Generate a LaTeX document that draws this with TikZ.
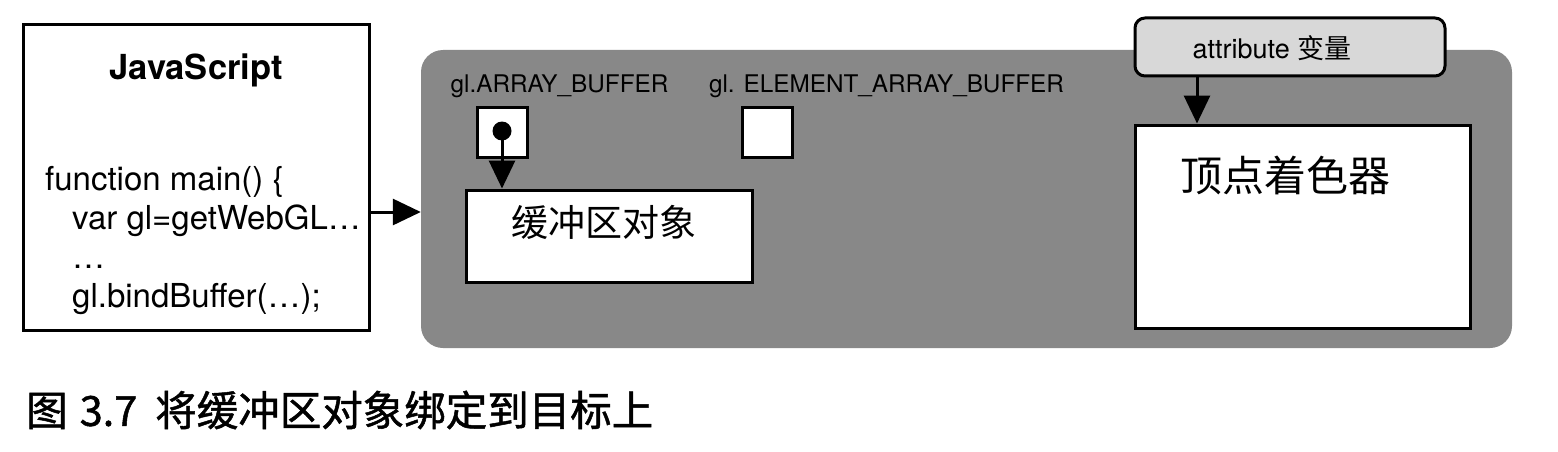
\documentclass[tikz,border=0pt]{standalone}
\usepackage{fontspec}
\setmainfont{TeX Gyre Heros}
\newfontfamily\cjk{Noto Sans CJK SC}
\newfontfamily\cjkb[FakeBold=1.2]{Noto Sans CJK SC}
\usetikzlibrary{arrows.meta}
\definecolor{panelgray}{RGB}{136,136,136}
\definecolor{attrgray}{RGB}{216,216,216}
\tikzset{
  box/.style={draw=black, line width=3pt, fill=white, inner sep=0pt, rectangle},
  arr/.style={line width=3pt, -{Triangle[width=26pt,length=28pt]}},
  fs/.style={font=\fontsize{#1}{#1}\selectfont},
}
\begin{document}
\begin{tikzpicture}[x=1pt,y=-1pt]
\useasboundingbox (0,0) rectangle (1558,452);
% JavaScript box
\node[box, minimum width=346pt, minimum height=305pt] (js) at (196,177.5) {};
\node[font=\fontsize{34.5}{34.5}\selectfont\bfseries] (jstitle) at (196,70) {JavaScript};
\node[fs=33, anchor=base west, inner sep=0pt] (l1) at (45,190) {function main() \{};
\node[fs=33, anchor=base west, inner sep=0pt] (l2) at (72,229) {var gl=getWebGL\ldots};
\node[fs=33, anchor=base west, inner sep=0pt] (l3) at (72,268) {\ldots};
\node[fs=33, anchor=base west, inner sep=0pt] (l4) at (72,307) {gl.bindBuffer(\ldots);};
% gray panel
\node[fill=panelgray, rounded corners=22pt, minimum width=1091pt, minimum height=298pt, inner sep=0pt] (panel) at (966.5,199) {};
% labels
\node[fs=24.3, inner sep=0pt] (lab1) at (559.5,86) {gl.ARRAY\_BUFFER};
\node[fs=24.3, inner sep=0pt] (lab2) at (886.5,86) {gl. ELEMENT\_ARRAY\_BUFFER};
% small squares
\node[box, minimum width=50pt, minimum height=50pt] (sq1) at (502,132) {};
\node[box, minimum width=50pt, minimum height=50pt] (sq2) at (767,132.5) {};
% buffer object
\node[box, minimum width=286pt, minimum height=92pt] (buf) at (609,236) {};
\node[font=\fontsize{37}{37}\selectfont\cjk] (buftext) at (604,222) {缓冲区对象};
% dot and arrow
\node[circle, fill=black, minimum size=19pt, inner sep=0pt] (dot) at (502,131) {};
\draw[arr] (dot.center) -- (dot.center |- buf.north);
% vertex shader
\node[box, minimum width=335pt, minimum height=203pt] (vs) at (1302.5,226.5) {};
\node[font=\fontsize{42}{42}\selectfont\cjk] (vstext) at (1285,175) {顶点着色器};
% attribute
\node[draw=black, line width=3pt, fill=attrgray, rounded corners=10pt, minimum width=310pt, minimum height=58pt, inner sep=0pt] (attr) at (1290,47) {};
\node[fs=27] (attrtext) at (1272,48) {attribute {\cjk 变量}};
\coordinate (attrout) at ([xshift=-93pt]attr.south);
\draw[arr] (attrout) -- (attrout |- vs.north);
% JS -> panel arrow
\coordinate (jsout) at ([yshift=-34.5pt]js.east);
\draw[arr] (jsout) -- (jsout -| panel.west);
% caption
\node[anchor=west, inner sep=0pt, font=\fontsize{41.5}{41.5}\selectfont\cjkb] (caption) at (26,410) {图\hspace{12pt}3.7\hspace{18pt}将缓冲区对象绑定到目标上};
\end{tikzpicture}
\end{document}
